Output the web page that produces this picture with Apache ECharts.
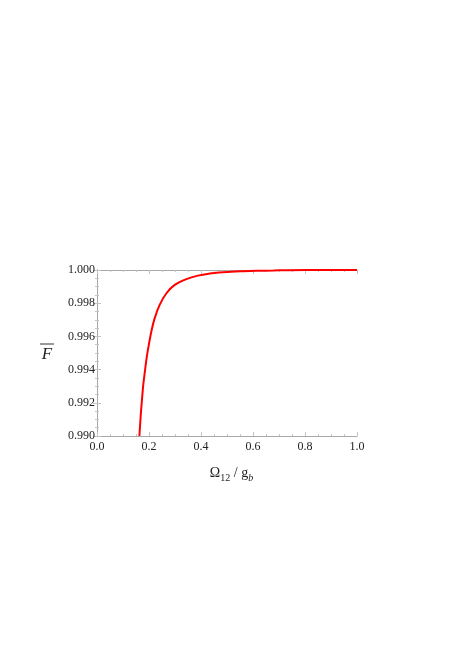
<!DOCTYPE html>
<html>
<head>
<meta charset="utf-8">
<script src="https://cdn.jsdelivr.net/npm/echarts@6/dist/echarts.min.js"></script>
<style>
  html, body { margin: 0; padding: 0; background: #fff; }
  #chart { width: 469px; height: 663px; }
</style>
</head>
<body>
<div id="chart"></div>
<script>
// 横轴 Ω12/gb 的取值
var omegaX = [0.163, 0.168, 0.173, 0.178, 0.1835, 0.19, 0.196, 0.209, 0.222, 0.241, 0.267, 0.299, 0.344, 0.388, 0.43, 0.485, 0.55, 0.613, 0.68, 0.74, 0.87, 1.0]
// 平均保真度 F
var fidelity = [0.9900, 0.9912, 0.9922, 0.9931, 0.9938, 0.9946, 0.9952, 0.9963, 0.9971, 0.9979, 0.9986, 0.9991, 0.99945, 0.99966, 0.99978, 0.99986, 0.99992, 0.99995, 0.99997, 0.99999, 1.0, 1.0]

// 绘图data
var data = omegaX.map(function (x, i) { return [x, fidelity[i]] })

var axisColor = '#a8a8a8'
var tickColor = '#c4c4c4'
var serif = 'Liberation Serif'

function frameAxis(type, pos, min, max, interval, showLabel, digits) {
	return {
		type: 'value',
		position: pos,
		min: min,
		max: max,
		interval: interval,
		axisLine: { show: true, lineStyle: { color: axisColor, width: 1 } },
		axisTick: { show: true, inside: true, length: 4, lineStyle: { color: tickColor } },
		minorTick: { show: true, splitNumber: 4, length: 2, lineStyle: { color: tickColor } },
		splitLine: { show: false },
		axisLabel: {
			show: showLabel,
			color: '#222',
			fontFamily: serif,
			fontSize: 12,
			margin: type === 'x' ? 5 : 2,
			formatter: function (v) { return v.toFixed(digits) }
		}
	}
}

var chart = echarts.init(document.getElementById('chart'))

var xBottom = frameAxis('x', 'bottom', 0, 1, 0.2, true, 1)
xBottom.name = '{o|Ω}{s|12}{n| / g}{b|b}'
xBottom.nameLocation = 'middle'
xBottom.nameGap = 26
xBottom.nameTextStyle = {
	padding: [0, 0, 0, 9],
	rich: {
		o: { fontFamily: serif, fontSize: 14, color: '#222', verticalAlign: 'bottom', lineHeight: 18 },
		n: { fontFamily: serif, fontSize: 14, color: '#222', verticalAlign: 'bottom', lineHeight: 18 },
		s: { fontFamily: serif, fontSize: 10, color: '#222', verticalAlign: 'bottom', lineHeight: 12, padding: [0, 0, -3, 0] },
		b: { fontFamily: serif, fontSize: 10, color: '#222', fontStyle: 'italic', verticalAlign: 'bottom', lineHeight: 12, padding: [0, 0, -3, 0] }
	}
}

var yLeft = frameAxis('y', 'left', 0.99, 1.0, 0.002, true, 3)
yLeft.name = '{bar|}\n{f|F}'
yLeft.nameLocation = 'middle'
yLeft.nameRotate = 0
yLeft.nameGap = 50
yLeft.nameTextStyle = {
	align: 'center',
	rich: {
		bar: { width: 11, height: 1, backgroundColor: '#333', lineHeight: 4, padding: [0, 0, 0, 3] },
		f: { fontFamily: serif, fontSize: 17, fontStyle: 'italic', color: '#222', lineHeight: 18 }
	}
}

var option = {
	backgroundColor: '#fff',
	animation: false,
	grid: { left: 97, right: 112, top: 270, bottom: 227 },
	xAxis: [xBottom, frameAxis('x', 'top', 0, 1, 0.2, false, 1)],
	yAxis: [yLeft, frameAxis('y', 'right', 0.99, 1.0, 0.002, false, 3)],
	series: [{
		type: 'line',
		data: data,
		smooth: 0.3,
		symbol: 'none',
		clip: true,
		lineStyle: { color: '#ff0000', width: 2 }
	}]
}
chart.setOption(option)
</script>
</body>
</html>
